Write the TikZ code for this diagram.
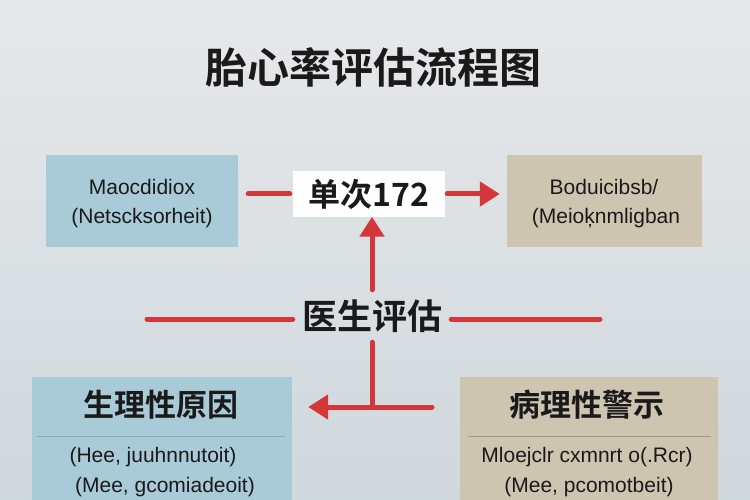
\documentclass[tikz,border=0pt]{standalone}
\usepackage{fontspec}
\setmainfont{Liberation Sans}
\newfontfamily\cjk{Noto Sans CJK SC}[BoldFont={* Bold}]
\usetikzlibrary{arrows.meta,calc}
\definecolor{bgtop}{HTML}{E7E8EA}
\definecolor{bgbot}{HTML}{CFD8DD}
\definecolor{boxblue}{HTML}{A9CBD8}
\definecolor{boxbeige}{HTML}{CDC5AF}
\definecolor{linered}{HTML}{D4373A}
\definecolor{ink}{HTML}{1A1A1A}
\definecolor{sepblue}{HTML}{8CA7B2}
\definecolor{sepbeige}{HTML}{9E9785}
\tikzset{
  bluebox/.style={fill=boxblue, draw=none, inner sep=0pt},
  beigebox/.style={fill=boxbeige, draw=none, inner sep=0pt},
  latin/.style={text=ink, font=\fontsize{21}{24}\selectfont, inner sep=0pt},
  cjktitle/.style={text=ink, font=\cjk\bfseries\fontsize{31}{36}\selectfont, inner sep=0pt},
  redline/.style={draw=linered, line width=5pt, line cap=round},
  redarrow/.style={redline, -{Triangle[length=20pt,width=24pt]}},
}
\begin{document}
\begin{tikzpicture}[x=1pt,y=-1pt]
\useasboundingbox (0,0) rectangle (750,500);
\shade[top color=bgtop, bottom color=bgbot] (0,0) rectangle (750,500);

% title
\node[text=ink, font=\cjk\bfseries\fontsize{42}{48}\selectfont, inner sep=0pt] (title) at (373,67) {胎心率评估流程图};

% top boxes
\node[bluebox, minimum width=192pt, minimum height=92pt] (tl) at (142,201) {};
\node[latin] (tl1) at (142,187) {Maocdidiox};
\node[latin] (tl2) at (142,218) {(Netscksorheit)};

\node[beigebox, minimum width=195pt, minimum height=92pt] (tr) at (604.5,201) {};
\node[latin] (tr1) at (604,187) {Boduicibsb/};
\node[latin] (tr2) at (606,218) {(Meioķnmligban};

% center node
\node[fill=white!95!bgtop, draw=none, minimum width=152pt, minimum height=45pt, inner sep=0pt,
      text=ink, font=\cjk\bfseries\fontsize{32}{36}\selectfont] (cn) at (369,194) {单次172};

% doctor node
\node[minimum width=158pt, minimum height=52pt, inner sep=0pt, text=ink,
      font=\cjk\bfseries\fontsize{35}{40}\selectfont] (doc) at (372,316) {医生评估};

% bottom boxes
\node[bluebox, minimum width=260pt, minimum height=140pt] (bl) at (162,447) {};
\node[cjktitle] (blt) at (161,405) {生理性原因};
\draw[sepblue, line width=1pt] (37,436) -- (285,436);
\node[latin] (bl1) at (153,457) {(Hee, juuhnnutoit)};
\node[latin] (bl2) at (165,487) {(Mee, gcomiadeoit)};

\node[beigebox, minimum width=258pt, minimum height=140pt] (br) at (589,447) {};
\node[cjktitle] (brt) at (587,405) {病理性警示};
\draw[sepbeige, line width=1pt] (468,436) -- (711,436);
\node[latin] (br1) at (587,457) {Mloejclr cxmnrt o(.Rcr)};
\node[latin] (br2) at (589,487) {(Mee, pcomotbeit)};

% connectors
\draw[redline, shorten <=10pt, shorten >=3pt] (tl.east |- cn.west) -- (cn.west);
\draw[redarrow, shorten <=2pt, shorten >=7pt] (cn.east) -- (tr.west |- cn.east);
\draw[redarrow] (doc.north) -- (doc.north |- cn.south);

\coordinate (hl) at (147,319);
\coordinate (hr) at (600,319);
\draw[redline] (hl) -- (doc.west |- hl);
\draw[redline] (doc.east |- hr) -- (hr);

\coordinate (j) at (372,407);
\coordinate (je) at (432,407);
\draw[redline] (doc.south) -- (j);
\draw[redarrow, shorten >=16pt] (je) -- (bl.east |- je);
\end{tikzpicture}
\end{document}
